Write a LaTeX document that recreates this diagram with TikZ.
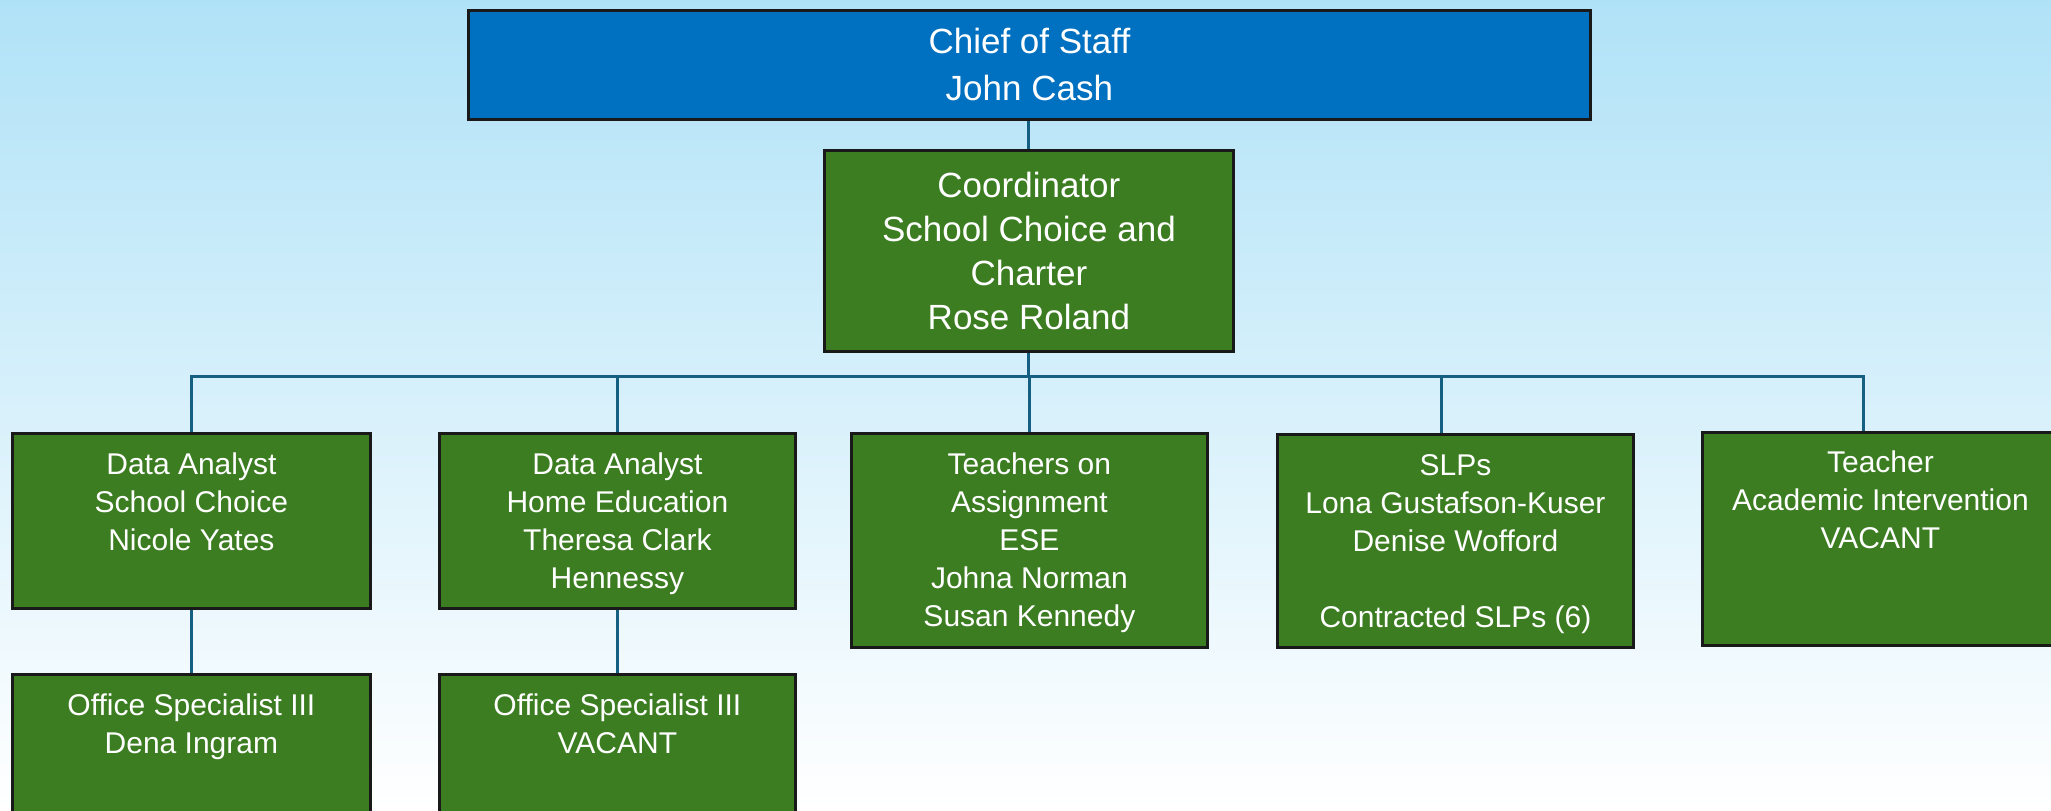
\documentclass[tikz,border=0pt]{standalone}
\usepackage{fontspec}
\setmainfont{Liberation Sans}
\usetikzlibrary{positioning}
\definecolor{bgtop}{RGB}{176,226,247}
\definecolor{bgmid}{RGB}{234,246,252}
\definecolor{chiefblue}{RGB}{0,112,192}
\definecolor{orggreen}{RGB}{60,125,34}
\definecolor{linkblue}{RGB}{21,96,130}
\begin{document}
\begin{tikzpicture}[x=0.5pt, y=-0.5pt, box/.style={draw=black!90, line width=1.4pt, fill=orggreen, anchor=north west, inner sep=0pt, text=white, align=center}, txt/.style={text=white, align=center, anchor=north, inner sep=0pt, font=\fontsize{15}{19}\selectfont}, conn/.style={draw=linkblue, line width=1.5pt}]
\shade[top color=bgtop, middle color=bgmid, bottom color=white] (0,0) rectangle (2051,810);
\useasboundingbox (0,0) rectangle (2051,810);
% top of the chart
\node[box, fill=chiefblue, minimum width=561pt, minimum height=54.5pt, font=\fontsize{17.5}{23.5}\selectfont] (chief) at (467,9) {Chief of Staff\\John Cash};
\node[box, minimum width=204.5pt, minimum height=100.5pt, font=\fontsize{17.5}{22}\selectfont] (coord) at (823,149) {Coordinator\\School Choice and\\Charter\\Rose Roland};
% second row
\node[box, minimum width=179pt, minimum height=87.5pt] (dasc) at (11,432) {};
\node[txt] (dasct) at ([yshift=-10pt]dasc.north) {Data Analyst\\School Choice\\Nicole Yates};
\node[box, minimum width=178pt, minimum height=87.5pt] (dahe) at (438,432) {};
\node[txt] (dahet) at ([yshift=-10pt]dahe.north) {Data Analyst\\Home Education\\Theresa Clark\\Hennessy};
\node[box, minimum width=178pt, minimum height=107pt] (toa) at (850,432) {};
\node[txt] (toat) at ([yshift=-10pt]toa.north) {Teachers on\\Assignment\\ESE\\Johna Norman\\Susan Kennedy};
\node[box, minimum width=178pt, minimum height=106.5pt] (slp) at (1276,433) {};
\node[txt] (slpt) at ([yshift=-10.5pt]slp.north) {SLPs\\Lona Gustafson-Kuser\\Denise Wofford\\[19pt]Contracted SLPs (6)};
\node[box, minimum width=178pt, minimum height=106.5pt] (tchr) at (1701,431) {};
\node[txt] (tchrt) at ([yshift=-9.5pt]tchr.north) {Teacher\\Academic Intervention\\VACANT};
% third row
\node[box, minimum width=179pt, minimum height=87.5pt] (ossc) at (11,673) {};
\node[txt] (ossct) at ([yshift=-10pt]ossc.north) {Office Specialist III\\Dena Ingram};
\node[box, minimum width=178pt, minimum height=87.5pt] (oshe) at (438,673) {};
\node[txt] (oshet) at ([yshift=-10pt]oshe.north) {Office Specialist III\\VACANT};
% connectors
\coordinate (bus) at (0,376);
\coordinate (slpin) at ([xshift=-7pt]slp.north);
\coordinate (tchrin) at ([xshift=-8.5pt]tchr.north);
\draw[conn] (coord.north |- chief.south) -- (coord.north);
\draw[conn] (coord.south) -- (coord.south |- bus);
\draw[conn] (dasc.north) |- (tchrin |- bus) -- (tchrin);
\draw[conn] (dahe.north) -- (dahe.north |- bus);
\draw[conn] (toa.north) -- (toa.north |- bus);
\draw[conn] (slpin) -- (slpin |- bus);
\draw[conn] (dasc.south) -- (ossc.north);
\draw[conn] (dahe.south) -- (oshe.north);
\end{tikzpicture}
\end{document}
